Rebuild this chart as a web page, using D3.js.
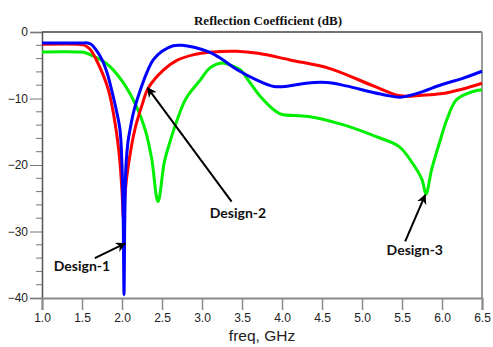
<!DOCTYPE html>
<html>
<head>
<meta charset="utf-8">
<script src="https://cdn.jsdelivr.net/npm/d3@7"></script>
<style>
  html, body { margin: 0; padding: 0; background: #fff; }
  svg { display: block; }
</style>
</head>
<body>
<svg id="chart" width="493" height="347"></svg>
<script>
// x ticks and y ticks
const xTicks = [1.0, 1.5, 2.0, 2.5, 3.0, 3.5, 4.0, 4.5, 5.0, 5.5, 6.0, 6.5];
const yTicks = [0, -10, -20, -30, -40];

// Design-1 (blue)
const freq1 = [1.0, 1.5, 1.57, 1.62, 1.67, 1.72, 1.77, 1.82, 1.87, 1.93, 1.975, 2.0, 2.015, 2.025, 2.035, 2.05, 2.075, 2.1, 2.15, 2.23, 2.3, 2.39, 2.5, 2.64, 2.75, 2.9, 3.1, 3.25, 3.43, 3.68, 3.9, 4.1, 4.3, 4.56, 4.8, 5.14, 5.3, 5.48, 5.7, 6.0, 6.25, 6.5];
const s11_1 = [-1.65, -1.65, -1.65, -1.9, -2.6, -3.5, -4.7, -6.4, -8.7, -11.8, -14.7, -20, -28, -39.5, -28, -20, -16.5, -14.7, -11.8, -8.7, -6.4, -4.2, -2.9, -2.06, -2.0, -2.3, -3.07, -4.1, -5.6, -7.2, -8.2, -8.1, -7.7, -7.6, -8.1, -9.1, -9.5, -9.8, -9.2, -7.9, -7.0, -5.9];

// Design-2 (red)
const freq2 = [1.0, 1.45, 1.52, 1.6, 1.7, 1.83, 1.92, 1.97, 2.0, 2.02, 2.04, 2.08, 2.16, 2.25, 2.33, 2.52, 2.68, 2.9, 3.1, 3.43, 3.7, 4.1, 4.6, 5.14, 5.48, 5.75, 5.98, 6.25, 6.5];
const s11_2 = [-1.85, -1.85, -1.95, -2.6, -4.7, -8.7, -14.2, -19, -24, -28.2, -24, -20, -14.7, -11.0, -8.4, -5.7, -4.3, -3.4, -3.05, -2.9, -3.2, -4.2, -5.5, -8.1, -9.6, -9.5, -9.3, -8.6, -7.7];

// Design-3 (green)
const freq3 = [1.0, 1.45, 1.52, 1.6, 1.75, 1.85, 2.02, 2.18, 2.29, 2.37, 2.45, 2.53, 2.6, 2.69, 2.8, 2.98, 3.1, 3.25, 3.4, 3.48, 3.6, 3.73, 3.93, 4.0, 4.33, 4.75, 5.17, 5.46, 5.63, 5.75, 5.8, 5.87, 5.98, 6.06, 6.18, 6.35, 6.5];
const s11_3 = [-3.0, -3.0, -3.05, -3.4, -4.3, -5.2, -7.7, -11.2, -14.7, -19, -25.5, -19.5, -16.5, -13.2, -10, -7.2, -5.4, -4.66, -5.2, -5.7, -7.6, -9.7, -12.0, -12.4, -12.7, -13.9, -15.7, -17.2, -19.7, -22.2, -24.4, -20.7, -16.2, -13.2, -10.2, -9.1, -8.7];

// annotation labels: arrow tip, arrow tail, text anchor (freq, dB)
const labels = ["Design-1", "Design-2", "Design-3"];
const tips = [[2.04, -31.8], [2.32, -8.4], [5.79, -24.5]];
const tails = [[1.66, -34.0], [3.37, -25.5], [5.54, -31.5]];
const textPos = [[1.5, -36.0], [3.45, -27.9], [5.66, -33.6]];

const colors = ["#0000ff", "#ff0000", "#00ee00"];

const margin = {left: 42, right: 11, top: 32, bottom: 49};
const width = 493, height = 347;

let svg = d3.select("#chart");

let x = d3.scaleLinear()
    .domain([1.0, 6.5])
    .range([margin.left, width - margin.right]);

let y = d3.scaleLinear()
    .domain([-40, 0])
    .range([height - margin.bottom, margin.top]);

// title
svg.append("text")
    .attr("x", 268)
    .attr("y", 24.5)
    .attr("text-anchor", "middle")
    .style("font-family", "'Liberation Serif', 'Times New Roman', serif")
    .style("font-weight", "bold")
    .style("font-size", "13px")
    .attr("fill", "#111")
    .text("Reflection Coefficient (dB)");

// top + right border
svg.append("line")
    .attr("x1", x(1.0)).attr("x2", x(6.5))
    .attr("y1", y(0)).attr("y2", y(0))
    .attr("stroke", "#444").attr("stroke-width", 1.5);
svg.append("line")
    .attr("x1", x(6.5)).attr("x2", x(6.5))
    .attr("y1", y(0)).attr("y2", y(-40))
    .attr("stroke", "#999").attr("stroke-width", 2);

// minor y ticks every 2 dB
let minor = d3.range(-38, 0, 2).filter(function (d) { return d % 10 !== 0; });
svg.append("g")
    .selectAll("line")
    .data(minor)
    .enter().append("line")
    .attr("x1", x(1.0) - 6).attr("x2", x(1.0))
    .attr("y1", function (d) { return y(d); })
    .attr("y2", function (d) { return y(d); })
    .attr("stroke", "#777").attr("stroke-width", 1);

// y axis
let yAxis = svg.append("g")
    .attr("transform", "translate(" + x(1.0) + ",0)")
    .call(d3.axisLeft(y).tickValues(yTicks).tickSize(12).tickFormat(d3.format("d")));
yAxis.select(".domain").attr("stroke", "#555").attr("stroke-width", 1.5);
yAxis.selectAll(".tick line").attr("stroke", "#777");
yAxis.selectAll(".tick text")
    .attr("x", -14)
    .style("font-family", "'Liberation Sans', Arial, sans-serif")
    .style("font-size", "12px")
    .attr("fill", "#222");

// x axis
let xAxis = svg.append("g")
    .attr("transform", "translate(0," + y(-40) + ")")
    .call(d3.axisBottom(x).tickValues(xTicks).tickSize(12).tickFormat(d3.format(".1f")));
xAxis.select(".domain").attr("stroke", "#8a8a8a").attr("stroke-width", 2);
xAxis.selectAll(".tick line").attr("stroke", "#8a8a8a").attr("stroke-width", 1.5);
xAxis.selectAll(".tick text")
    .attr("y", 15)
    .style("font-family", "'Liberation Sans', Arial, sans-serif")
    .style("font-size", "12px")
    .attr("fill", "#222");

// x label
svg.append("text")
    .attr("x", 262)
    .attr("y", 341)
    .attr("text-anchor", "middle")
    .style("font-family", "'Liberation Sans', Arial, sans-serif")
    .style("font-size", "15.5px")
    .attr("fill", "#222")
    .text("freq, GHz");

// curves
let line = d3.line()
    .x(function (d) { return x(d[0]); })
    .y(function (d) { return y(d[1]); })
    .curve(d3.curveCatmullRom.alpha(0.5));

let series = [
    d3.zip(freq3, s11_3),
    d3.zip(freq2, s11_2),
    d3.zip(freq1, s11_1)
];
let seriesColors = [colors[2], colors[1], colors[0]];

svg.append("g")
    .selectAll("path")
    .data(series)
    .enter().append("path")
    .attr("d", line)
    .attr("fill", "none")
    .attr("stroke", function (d, i) { return seriesColors[i]; })
    .attr("stroke-width", 3)
    .attr("stroke-linejoin", "round");

// arrowhead
svg.append("defs").append("marker")
    .attr("id", "arrow")
    .attr("viewBox", "0 0 10 10")
    .attr("refX", 9).attr("refY", 5)
    .attr("markerWidth", 5).attr("markerHeight", 5)
    .attr("orient", "auto")
    .append("path")
    .attr("d", "M0,0 L10,5 L0,10 L3,5 Z")
    .attr("fill", "#000");

// annotations
let ann = svg.append("g");
labels.forEach(function (label, i) {
    ann.append("line")
        .attr("x1", x(tails[i][0])).attr("y1", y(tails[i][1]))
        .attr("x2", x(tips[i][0])).attr("y2", y(tips[i][1]))
        .attr("stroke", "#000")
        .attr("stroke-width", 2)
        .attr("marker-end", "url(#arrow)");
    ann.append("text")
        .attr("x", x(textPos[i][0]))
        .attr("y", y(textPos[i][1]))
        .attr("text-anchor", "middle")
        .style("font-family", "Lato, 'Open Sans', sans-serif")
        .style("font-weight", "bold")
        .style("font-size", "14px")
        .attr("fill", "#111")
        .text(label);
});
</script>
</body>
</html>
